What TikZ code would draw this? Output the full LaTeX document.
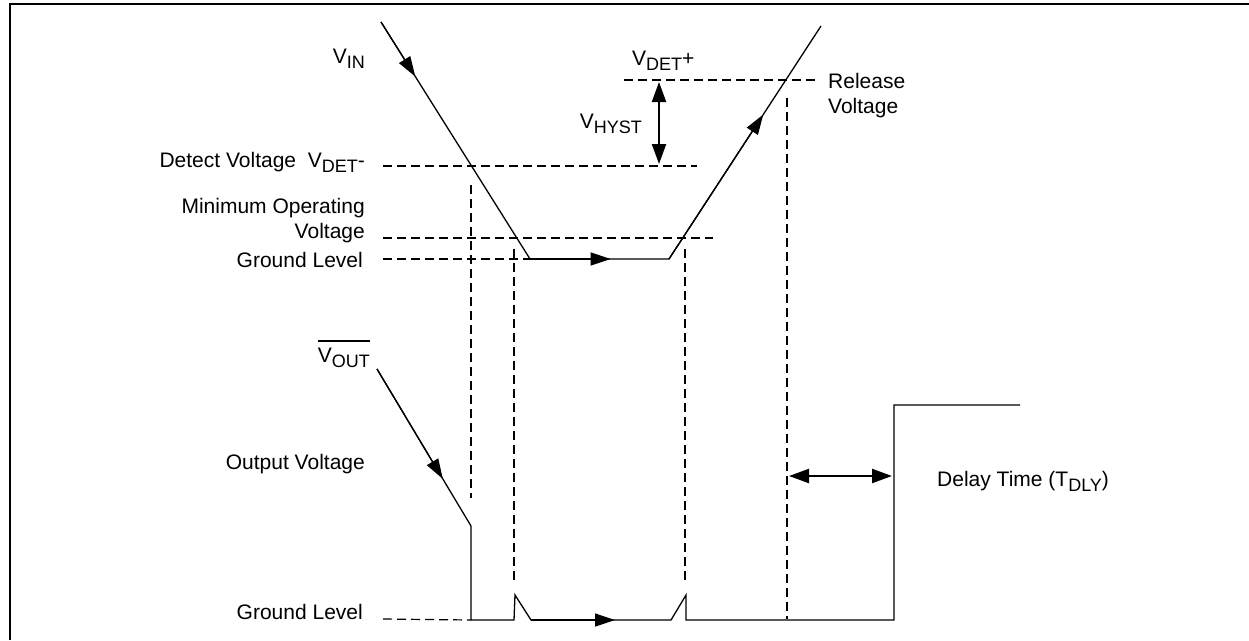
\documentclass[tikz,border=0pt]{standalone}
\usepackage{fontspec}
\setmainfont{Liberation Sans}
\usetikzlibrary{arrows.meta,calc}
\newcommand{\lsub}[1]{\raisebox{-5pt}{\fontsize{18}{18}\selectfont #1}}
\newcommand{\myoverline}[1]{\setbox0\hbox{#1}\rlap{\rule[20.5pt]{\wd0}{1.6pt}}\box0}
\begin{document}
\begin{tikzpicture}[x=1pt,y=-1pt,
  lbl/.style={inner sep=0pt, font=\fontsize{21}{25}\selectfont},
  wave/.style={line width=1.3pt, line join=miter},
  dsh/.style={line width=1.2pt, dash pattern=on 9pt off 5pt},
  tip/.style={-{Triangle[length=20pt,width=13pt]}},
  dbl/.style={line width=2.2pt, {Triangle[length=20pt,width=14pt]}-{Triangle[length=20pt,width=14pt]}},
  frame/.style={line width=2.2pt}]
\useasboundingbox (0,0) rectangle (1249,640);
% frame (cropped)
\coordinate (fa) at (10,640);
\coordinate (fb) at (10,4);
\coordinate (fc) at (1249,4);
\draw[frame] (fa) -- (fb) -- (fc);

% labels
\node[lbl, anchor=base east] (vin) at (365,63) {V\lsub{IN}};
\node[lbl, anchor=base west] (vdetp) at (632,65) {V\lsub{DET}+};
\node[lbl, anchor=base east] (vhyst) at (642,128) {V\lsub{HYST}};
\node[lbl, anchor=base west] (rel1) at (828,88) {Release};
\node[lbl, anchor=base west] (rel2) at (828,113) {Voltage};
\node[lbl, anchor=base east] (det) at (365,167) {Detect Voltage\ \ V\lsub{DET}-};
\node[lbl, anchor=base east] (minop1) at (365,213) {Minimum Operating};
\node[lbl, anchor=base east] (minop2) at (365,238) {Voltage};
\node[lbl, anchor=base east] (gnd1) at (363,267) {Ground Level};
\node[lbl, anchor=base east] (vout) at (370,362) {\myoverline{V\lsub{OUT}}};
\node[lbl, anchor=base east] (outv) at (365,469) {Output Voltage};
\node[lbl, anchor=base east] (gnd2) at (363,619) {Ground Level};
\node[lbl, anchor=base west] (dly) at (937,486) {Delay Time (T\lsub{DLY})};

% input waveform
\coordinate (vin0) at (381,22);
\coordinate (vin1) at (530,259);
\coordinate (vin2) at (669,259);
\coordinate (vin3) at (821,26);
\draw[wave] (vin0) -- (vin1) -- (vin2) -- (vin3);
\draw[wave, tip] (vin0) -- ($(vin0)!0.23!(vin1)$);
\draw[wave, tip] (vin1) -- ($(vin1)!0.58!(vin2)$);
\draw[wave, tip] (vin2) -- ($(vin2)!0.62!(vin3)$);

% output waveform
\coordinate (vo0) at (377,369);
\coordinate (vo1) at (471,526);
\coordinate (vo2) at (471,620);
\coordinate (vo3) at (514,620);
\coordinate (vo4) at (515,595);
\coordinate (vo5) at (531,620);
\coordinate (vo6) at (671,620);
\coordinate (vo7) at (686,595);
\coordinate (vo8) at (686,620);
\coordinate (vo9) at (894,620);
\coordinate (vo10) at (894,405);
\coordinate (vo11) at (1020,405);
\draw[wave] (vo0) -- (vo1) -- (vo2) -- (vo3) -- (vo4) -- (vo5) -- (vo6) -- (vo7) -- (vo8) -- (vo9) -- (vo10) -- (vo11);
\draw[wave, tip] (vo0) -- ($(vo0)!0.70!(vo1)$);
\draw[wave, tip] (vo5) -- ($(vo5)!0.60!(vo6)$);

% horizontal dashed levels
\coordinate (hp0) at (624,80);  \coordinate (hp1) at (818,80);
\coordinate (hd0) at (383,166); \coordinate (hd1) at (697,166);
\coordinate (hm0) at (383,238); \coordinate (hm1) at (713,238);
\coordinate (hg0) at (383,259);
\coordinate (hb0) at (383,619);
\draw[dsh] (hp0) -- (hp1);
\draw[dsh] (hd0) -- (hd1);
\draw[dsh] (hm0) -- (hm1);
\draw[dsh] (hg0) -- (vin1);
\draw[dsh] (hb0) -- (vo2);

% vertical dashed lines
\coordinate (va0) at (471,185); \coordinate (va1) at (471,498);
\coordinate (vb0) at (514,249); \coordinate (vb1) at (514,580);
\coordinate (vc0) at (685,249); \coordinate (vc1) at (685,580);
\coordinate (vd0) at (787,98);  \coordinate (vd1) at (787,619);
\draw[dsh] (va0) -- (va1);
\draw[dsh] (vb0) -- (vb1);
\draw[dsh] (vc0) -- (vc1);
\draw[dsh] (vd0) -- (vd1);

% dimension arrows
\coordinate (hy0) at (659,82); \coordinate (hy1) at (659,164);
\draw[dbl] (hy0) -- (hy1);
\coordinate (dl0) at (789,476); \coordinate (dl1) at (892,476);
\draw[dbl] (dl0) -- (dl1);
\end{tikzpicture}
\end{document}
